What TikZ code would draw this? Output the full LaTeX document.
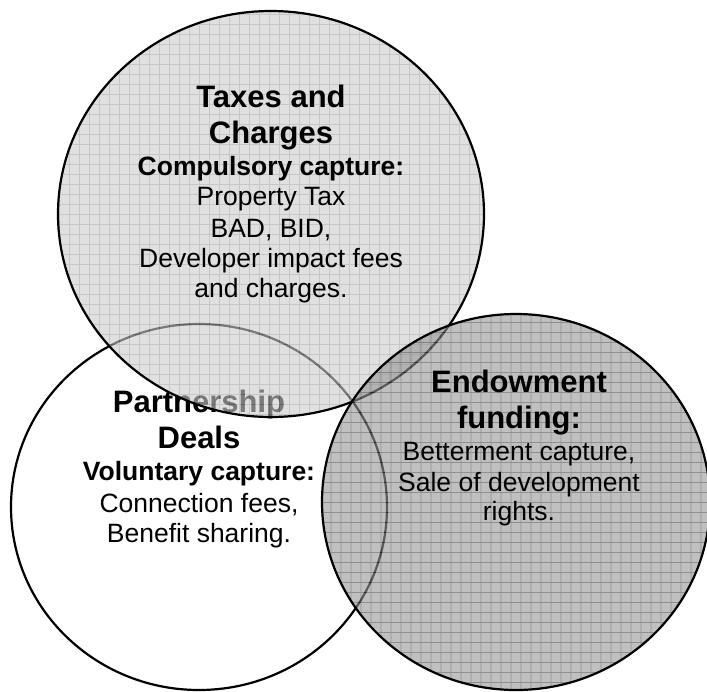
\documentclass[tikz,border=0pt]{standalone}
\usepackage{fontspec}
\setmainfont{Liberation Sans}
\definecolor{topfill}{HTML}{CCCCCC}
\definecolor{topgrid}{HTML}{A3A3A3}
\definecolor{rightfill}{HTML}{969696}
\definecolor{rightgrid}{HTML}{474747}
\begin{document}
\begin{tikzpicture}[x=1pt,y=-1pt,
  outline/.style={draw=black,line width=2.2pt},
  titletext/.style={font=\fontsize{31}{36}\selectfont\bfseries,anchor=base,inner sep=0pt},
  subtext/.style={font=\fontsize{26.5}{30}\selectfont\bfseries,anchor=base,inner sep=0pt},
  bodytext/.style={font=\fontsize{26.5}{30}\selectfont,anchor=base,inner sep=0pt}]
\useasboundingbox (0,0) rectangle (707,691);
\fill[white] (0,0) rectangle (707,691);
% ---- left ellipse (Partnership Deals)
\fill[white] (199,507) ellipse [x radius=188, y radius=183];
\draw[outline] (199,507) ellipse [x radius=188, y radius=183];
\node[titletext] (p1) at (199,412) {Partnership};
\node[titletext] (p2) at (199,448) {Deals};
\node[subtext] (p3) at (199,480) {Voluntary capture:};
\node[bodytext] (p4) at (199,512) {Connection fees,};
\node[bodytext] (p5) at (199,542) {Benefit sharing.};
% ---- top ellipse (Taxes and Charges)
\begin{scope}[transparency group, opacity=0.6]
  \begin{scope}
    \clip (271,214) ellipse [x radius=213, y radius=203];
    \fill[topfill] (0,0) rectangle (707,691);
    \foreach \i in {0,...,71} \draw[topgrid,line width=0.8pt] (\i*10-0.5,0) -- (\i*10-0.5,691);
    \foreach \j in {0,...,70} \draw[topgrid,line width=0.8pt] (0,\j*10+4.5) -- (707,\j*10+4.5);
  \end{scope}
\end{scope}
\draw[outline] (271,214) ellipse [x radius=213, y radius=203];
\node[titletext] (t1) at (271,107) {Taxes and};
\node[titletext] (t2) at (271,143) {Charges};
\node[subtext] (t3) at (271,175) {Compulsory capture:};
\node[bodytext] (t4) at (271,205) {Property Tax};
\node[bodytext] (t5) at (271,237) {BAD, BID,};
\node[bodytext] (t6) at (271,267) {Developer impact fees};
\node[bodytext] (t7) at (271,297) {and charges.};
% ---- right ellipse (Endowment funding)
\begin{scope}[transparency group, opacity=0.6]
  \begin{scope}
    \clip (516,502) ellipse [x radius=194, y radius=188];
    \fill[rightfill] (0,0) rectangle (707,691);
    \foreach \i in {0,...,71} \draw[rightgrid,line width=0.8pt] (\i*10+1,0) -- (\i*10+1,691);
    \foreach \j in {0,...,70} \draw[rightgrid,line width=0.8pt] (0,\j*10+2.5) -- (707,\j*10+2.5);
  \end{scope}
\end{scope}
\draw[outline] (516,502) ellipse [x radius=194, y radius=188];
\node[titletext] (e1) at (519,392) {Endowment};
\node[titletext] (e2) at (519,428) {funding:};
\node[bodytext] (e3) at (519,460) {Betterment capture,};
\node[bodytext] (e4) at (519,491) {Sale of development};
\node[bodytext] (e5) at (519,520) {rights.};
\end{tikzpicture}
\end{document}
